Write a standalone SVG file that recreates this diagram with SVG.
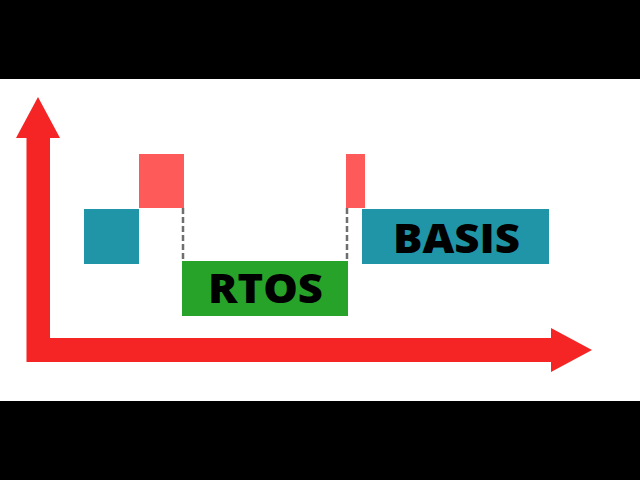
<svg xmlns="http://www.w3.org/2000/svg" width="640" height="480" viewBox="0 0 640 480">
<style>
.band{fill:#000}
.arrow{fill:#f52525}
.teal{fill:#1f95a7}
.red{fill:#ff5a5a}
.green{fill:#27a32a}
.dash{stroke:#6e6e6e;stroke-width:2.5;stroke-dasharray:6,3;fill:none}
.lbl{font-family:"Open Sans","Liberation Sans",sans-serif;font-weight:800;font-size:41px;fill:#000;text-anchor:middle}
</style>
<rect width="640" height="480" fill="#fff"/>
<rect class="band" x="0" y="0" width="640" height="79"/>
<rect class="band" x="0" y="401" width="640" height="79"/>
<g id="axes">
<polygon class="arrow" points="26.5,362 26.5,138 16,138 38,97 60,138 50,138 50,338 551,338 551,328 592,350 551,372 551,362"/>
</g>
<g id="connectors">
<line class="dash" x1="183" y1="208" x2="183" y2="262"/>
<line class="dash" x1="347" y1="208" x2="347" y2="262"/>
</g>
<g id="teal-small"><rect class="teal" x="84" y="209" width="55" height="55"/></g>
<g id="red-left"><rect class="red" x="139" y="154" width="45" height="54"/></g>
<g id="red-right"><rect class="red" x="346" y="154" width="19" height="54"/></g>
<g id="rtos"><rect class="green" x="182" y="261" width="166" height="55"/><text class="lbl" x="265.5" y="303" textLength="115" lengthAdjust="spacingAndGlyphs">RTOS</text></g>
<g id="basis"><rect class="teal" x="362" y="209" width="187" height="55"/><text class="lbl" x="456.5" y="252.5" textLength="127" lengthAdjust="spacingAndGlyphs">BASIS</text></g>
</svg>
